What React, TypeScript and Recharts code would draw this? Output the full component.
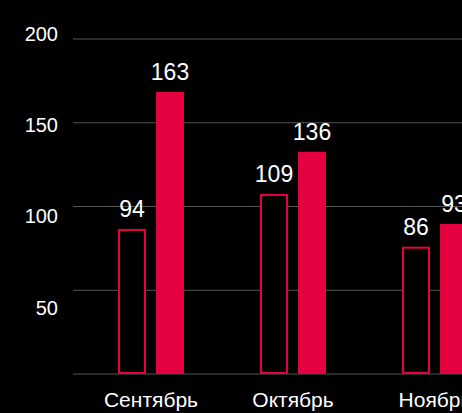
import React from 'react';
import { BarChart, Bar, XAxis, YAxis, CartesianGrid, LabelList } from 'recharts';

const months = ['Сентябрь', 'Октябрь', 'Ноябрь'];
// bar heights as read against the gridlines
const prevBars = [86.6, 107.5, 76];
const currBars = [168.4, 132.7, 89.6];
// numbers printed above the bars
const prevLabels = [94, 109, 86];
const currLabels = [163, 136, 93];
const yTicks = [0, 50, 100, 150, 200];

const data = months.map((month, i) => ({
  month,
  prev: prevBars[i],
  curr: currBars[i],
  prevLabel: prevLabels[i],
  currLabel: currLabels[i],
}));

const RED = '#e5003f';
const FONT = '"Liberation Sans", Arial, sans-serif';

const OutlineBar = (props: any) => {
  const { x, y, width, height } = props;
  if (!height || height <= 0) return <g />;
  return (
    <rect x={x + 1} y={y + 1} width={width - 2} height={height - 2} fill="#000" stroke={RED} strokeWidth={2} />
  );
};

// tick labels drift downward a little as values get smaller
const YTick = (props: any) => {
  const { x, y, payload } = props;
  if (payload.value === 0) return <g />;
  const drift = 31.8 - 0.15 * payload.value;
  return (
    <text x={x} y={y + drift} textAnchor="end" fill="#fff" fontSize={20} fontFamily={FONT}>
      {payload.value}
    </text>
  );
};

export default function App() {
  return (
    <div
      style={{
        position: 'absolute',
        top: 0,
        left: 0,
        width: 462,
        height: 413,
        overflow: 'hidden',
        background: '#000',
        fontFamily: FONT,
      }}
    >
      <BarChart
        width={506}
        height={413}
        data={data}
        margin={{ top: 39, right: 0, left: 0, bottom: 0 }}
        barGap={10}
        barSize={28}
      >
        <CartesianGrid vertical={false} stroke="#555" />
        <XAxis
          dataKey="month"
          height={39}
          padding={{ left: 7, right: 0 }}
          axisLine={false}
          tickLine={false}
          tickSize={0}
          tickMargin={18}
          tick={{ fill: '#fff', fontSize: 21, fontFamily: FONT }}
        />
        <YAxis
          width={73}
          domain={[0, 200]}
          ticks={yTicks}
          axisLine={false}
          tickLine={false}
          tickSize={0}
          tickMargin={15}
          tick={<YTick />}
        />
        <Bar dataKey="prev" shape={<OutlineBar />} isAnimationActive={false}>
          <LabelList dataKey="prevLabel" position="top" offset={12} fill="#fff" fontSize={23} fontFamily={FONT} />
        </Bar>
        <Bar dataKey="curr" fill={RED} isAnimationActive={false}>
          <LabelList dataKey="currLabel" position="top" offset={12} fill="#fff" fontSize={23} fontFamily={FONT} />
        </Bar>
      </BarChart>
    </div>
  );
}
